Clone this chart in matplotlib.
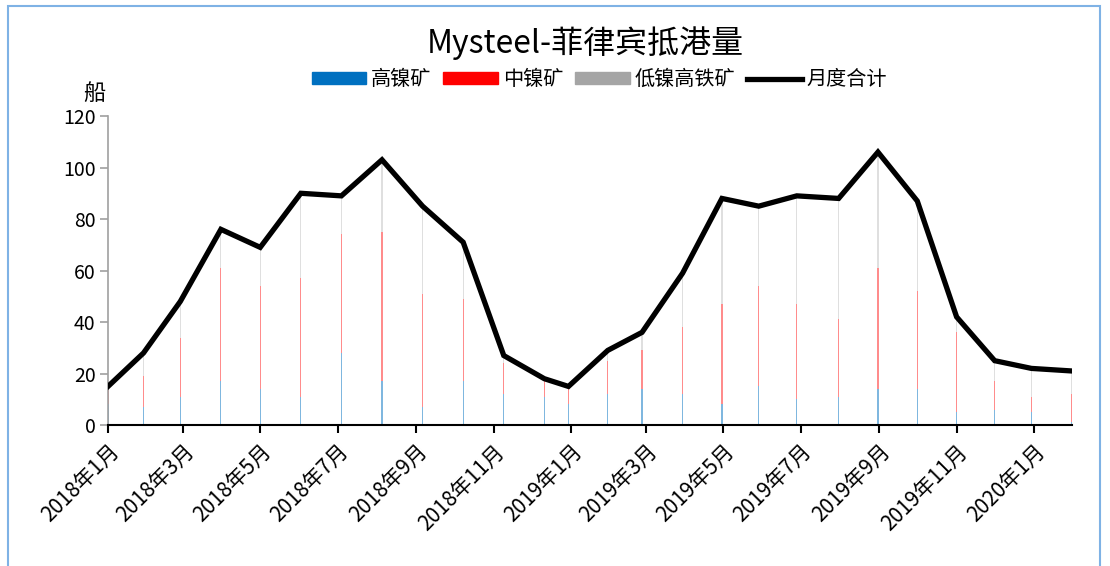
import datetime as dt

import matplotlib
matplotlib.use("Agg")
import matplotlib.pyplot as plt
from matplotlib.patches import Patch, Rectangle
from matplotlib.lines import Line2D

plt.rcParams['font.family'] = ['Noto Sans CJK SC', 'DejaVu Sans']

# 数据日期（从图中横坐标位置估读）
dates = ['2018-01-01', '2018-01-29', '2018-02-27', '2018-03-31', '2018-05-01',
         '2018-06-02', '2018-07-04', '2018-08-05', '2018-09-06', '2018-10-08',
         '2018-11-09', '2018-12-11', '2018-12-30', '2019-01-30', '2019-02-26',
         '2019-03-30', '2019-04-30', '2019-05-29', '2019-06-28', '2019-07-31',
         '2019-08-31', '2019-10-01', '2019-11-01', '2019-12-01', '2019-12-30',
         '2020-01-31']
# 高镍矿
high_ni = [8, 7, 11, 17, 14, 11, 28, 17, 7, 17, 12, 11, 8,
           12, 14, 12, 8, 15, 10, 11, 14, 14, 5, 6, 5, 1]
# 中镍矿
mid_ni = [7, 12, 23, 44, 40, 46, 46, 58, 44, 32, 12, 7, 6,
          13, 15, 26, 39, 39, 37, 30, 47, 38, 31, 11, 6, 11]
# 月度合计
total = [15, 28, 48, 76, 69, 90, 89, 103, 85, 71, 27, 18, 15,
         29, 36, 59, 88, 85, 89, 88, 106, 87, 42, 25, 22, 21]
# 低镍高铁矿 = 合计 - 高镍 - 中镍
low_ni = [t - a - b for t, a, b in zip(total, high_ni, mid_ni)]

x = [dt.datetime.strptime(d, '%Y-%m-%d') for d in dates]

fig = plt.figure(figsize=(11.1, 5.66), dpi=100)
ax = fig.add_axes([0.0973, 0.249, 0.8685, 0.546])

c_high = '#0070C0'
c_mid = '#FF0000'
c_low = '#A5A5A5'
bw = 0.9
ax.bar(x, high_ni, width=bw, color=c_high, alpha=0.5, linewidth=0)
ax.bar(x, mid_ni, width=bw, bottom=high_ni, color=c_mid, alpha=0.45, linewidth=0)
bot2 = [a + b for a, b in zip(high_ni, mid_ni)]
ax.bar(x, low_ni, width=bw, bottom=bot2, color=c_low, alpha=0.35, linewidth=0)
ax.plot(x, total, color='black', linewidth=3.8, solid_joinstyle='miter', zorder=5)

ax.set_ylim(0, 120)
ax.set_yticks(range(0, 121, 20))
ax.set_xlim(x[0], x[-1])

ticks = [dt.datetime(2018 + (m - 1) // 12, (m - 1) % 12 + 1, 1) for m in range(1, 26, 2)]
ax.set_xticks(ticks)
ax.set_xticklabels(['{}年{}月'.format(t.year, t.month) for t in ticks],
                   rotation=45, ha='right', rotation_mode='anchor', fontsize=15)
ax.tick_params(axis='y', labelsize=14, color='#A0A0A0', length=6, width=1.2, pad=3)
ax.tick_params(axis='x', color='black', length=6, width=1.5, pad=5)

for s in ['top', 'right']:
    ax.spines[s].set_visible(False)
ax.spines['left'].set_color('#A0A0A0')
ax.spines['left'].set_linewidth(1.2)
ax.spines['bottom'].set_color('black')
ax.spines['bottom'].set_linewidth(1.5)

fig.text(0.085, 0.835, '船', fontsize=16, ha='center', va='center')
fig.text(0.527, 0.924, 'Mysteel-菲律宾抵港量', fontsize=23, ha='center', va='center')

handles = [Patch(color=c_high), Patch(color=c_mid), Patch(color=c_low),
           Line2D([0], [0], color='black', linewidth=3.8)]
labels = ['高镍矿', '中镍矿', '低镍高铁矿', '月度合计']
fig.legend(handles, labels, loc='center', bbox_to_anchor=(0.54, 0.859), ncol=4,
           frameon=False, fontsize=14.5, handlelength=2.7, handleheight=0.5,
           handletextpad=0.25, columnspacing=0.6)

fig.add_artist(Rectangle((8 / 1110, -0.05), 1092 / 1110, 1.05 - 6 / 566,
                         transform=fig.transFigure, fill=False,
                         edgecolor='#7FB2E5', linewidth=1.5))

fig.savefig('out.png', dpi=100)
